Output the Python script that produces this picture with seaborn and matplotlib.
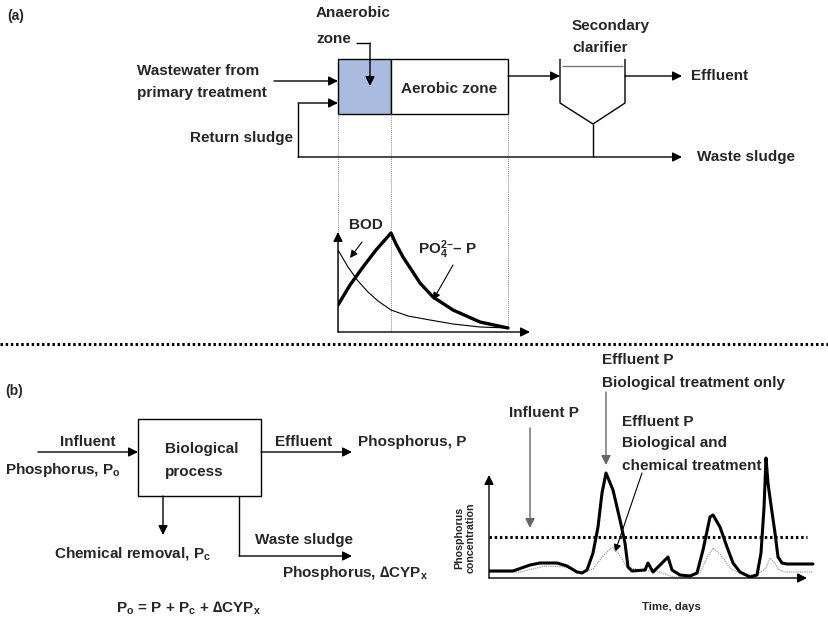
import matplotlib.pyplot as plt
import seaborn as sns
from matplotlib.patches import Rectangle

# -------------------------------------------------------
# Data
# -------------------------------------------------------
# (a) profile along the reactor
bod_x = [0, 10, 20, 30, 40, 53, 70, 92, 115, 142, 170]
bod_y = [82, 65, 51, 40, 31, 22, 16, 12, 8, 5, 4]
po4_x = [0, 12, 25, 38, 53, 58, 65, 82, 95, 115, 142, 170]
po4_y = [27, 47, 65, 82, 99, 88, 75, 49, 35, 22, 10, 4]

# (b) effluent P over time
bio_t = [0, 24, 41, 51, 68, 78, 88, 93, 98, 104, 109, 113, 117, 124, 131, 136,
         139, 143, 156, 159, 164, 171, 179, 183, 191, 201, 208, 214, 221, 224,
         231, 238, 244, 251, 261, 268, 272, 275, 277, 279, 281, 286, 289, 293,
         298, 324]
bio_p = [7, 7, 13, 15, 15, 12, 6, 5, 8, 25, 51, 85, 105, 88, 58, 35,
         11, 7, 8, 15, 6, 13, 21, 8, 3, 2, 5, 28, 61, 63,
         51, 31, 15, 6, 1, 3, 25, 70, 120, 95, 80, 45, 21, 15,
         14, 14]
chem_t = [0, 31, 56, 76, 91, 104, 114, 123, 129, 138, 151, 171, 184, 201, 211,
          218, 224, 231, 241, 254, 268, 277, 281, 285, 289, 296, 324]
chem_p = [6, 6, 12, 11, 5, 9, 22, 31, 25, 11, 8, 6, 1, 1, 5,
          20, 30, 24, 10, 3, 3, 10, 20, 16, 9, 6, 6]
influent_p = 41

# -------------------------------------------------------
# Figure setup
# -------------------------------------------------------
sns.set_style('white')
plt.rcParams['font.family'] = ['Liberation Sans', 'DejaVu Sans']
plt.rcParams['mathtext.fontset'] = 'custom'
plt.rcParams['mathtext.rm'] = 'Liberation Sans:bold'
plt.rcParams['mathtext.it'] = 'Liberation Sans:bold'
plt.rcParams['mathtext.bf'] = 'Liberation Sans:bold'

W, H = 829, 618
fig = plt.figure(figsize=(W / 100, H / 100), dpi=100)
ax = fig.add_axes([0, 0, 1, 1])
ax.set_xlim(0, W)
ax.set_ylim(H, 0)
ax.axis('off')

FS = 11


def label(x, y, s, size=FS, **kw):
    ax.text(x, y, s, fontsize=size, fontweight='bold', va='center', **kw)


def arrow(a, x0, y0, x1, y1, color='black', lw=1.0, ms=14):
    a.annotate('', xy=(x1, y1), xytext=(x0, y0), annotation_clip=False,
               arrowprops=dict(arrowstyle='-|>', color=color, lw=lw,
                               mutation_scale=ms, shrinkA=0, shrinkB=0))


def line(xs, ys, **kw):
    kw.setdefault('color', 'black')
    kw.setdefault('lw', 1.0)
    ax.plot(xs, ys, solid_capstyle='butt', **kw)


# -------------------------------------------------------
# (a) process flow sheet
# -------------------------------------------------------
label(7, 16, '(a)', size=10)

ax.add_patch(Rectangle((338, 59), 53, 55, facecolor='#a9bcdf', edgecolor='black', lw=1))
ax.add_patch(Rectangle((391, 59), 117, 55, facecolor='white', edgecolor='black', lw=1))
label(401, 89, 'Aerobic zone')

label(316, 13, 'Anaerobic')
label(316, 39, 'zone')
line([356, 370], [43, 43])
arrow(ax, 370, 43, 370, 86)

label(137, 71, 'Wastewater from')
label(137, 93, 'primary treatment')
arrow(ax, 274, 81, 338, 81)

label(293, 138, 'Return sludge', ha='right')
line([298, 298], [157, 103])
arrow(ax, 298, 103, 338, 103)
arrow(ax, 298, 157, 682, 157)
label(697, 157, 'Waste sludge')

# clarifier
arrow(ax, 508, 76, 560, 76)
line([560, 560, 593, 625, 625], [59, 103, 124, 103, 59])
line([562, 623], [66, 66], color='#777777')
line([593, 593], [124, 157])
label(572, 26, 'Secondary')
label(572, 48, 'clarifier')
arrow(ax, 625, 76, 682, 76)
label(691, 76, 'Effluent')

# guides down to the profile
for gx, gy in [(338, 332), (391, 332), (508, 328)]:
    line([gx, gx], [114, gy], color='#888888', lw=0.7, ls=(0, (1, 1)))

# profile sketch
pa = fig.add_axes([338 / W, (H - 332) / H, 192 / W, 110 / H])
pa.set_xlim(0, 192)
pa.set_ylim(0, 110)
pa.axis('off')
sns.lineplot(x=bod_x, y=bod_y, ax=pa, color='black', lw=0.8, sort=False)
sns.lineplot(x=po4_x, y=po4_y, ax=pa, color='black', lw=2.4, sort=False)
arrow(pa, 0, 0, 192, 0)
arrow(pa, 0, 0, 0, 100)

label(366, 225, 'BOD', ha='center')
arrow(ax, 362, 242, 350, 258, lw=0.8, ms=11)
label(418, 250, 'PO$_4^{2\u2013}$\u2013 P')
arrow(ax, 453, 265, 433, 300, lw=0.8, ms=11)

# separator
line([0, W], [344, 344], lw=2.2, ls=(0, (0.8, 0.9)))

# -------------------------------------------------------
# (b) phosphorus balance
# -------------------------------------------------------
label(5, 391, '(b)', size=10)

ax.add_patch(Rectangle((138, 419), 123, 77, facecolor='white', edgecolor='black', lw=1))
label(165, 449, 'Biological')
label(165, 472, 'process')

arrow(ax, 38, 452, 138, 452)
label(88, 442, 'Influent', ha='center')
label(5, 470, 'Phosphorus, P$_\\mathrm{o}$')

arrow(ax, 261, 452, 352, 452)
label(275, 442, 'Effluent')
label(358, 442, 'Phosphorus, P')

arrow(ax, 163, 496, 163, 535)
label(54, 553, 'Chemical removal, P$_\\mathrm{c}$')

line([239, 239], [496, 556])
arrow(ax, 239, 556, 352, 556)
label(255, 540, 'Waste sludge')
label(282, 573, 'Phosphorus, \u2206CYP$_\\mathrm{x}$')

label(116, 608, 'P$_\\mathrm{o}$ = P + P$_\\mathrm{c}$ + \u2206CYP$_\\mathrm{x}$')

# time series sketch
ta = fig.add_axes([489 / W, (H - 578) / H, 340 / W, 138 / H])
ta.set_xlim(0, 340)
ta.set_ylim(0, 138)
ta.axis('off')
sns.lineplot(x=chem_t, y=chem_p, ax=ta, color='#8a8a8a', lw=0.8,
             linestyle=(0, (1, 1)), sort=False)
sns.lineplot(x=bio_t, y=bio_p, ax=ta, color='black', lw=2.2, sort=False)
ta.plot([0, 318], [influent_p, influent_p], color='black', lw=2.2, ls=(0, (0.8, 0.9)))
arrow(ta, 0, 0, 318, 0)
arrow(ta, 0, 0, 0, 103)

ax.text(465, 538, 'Phosphorus\nconcentration', rotation=90, ha='center', va='center',
        fontsize=7.7, fontweight='bold', linespacing=1.1)
label(671, 607, 'Time, days', size=8.2, ha='center')

label(509, 413, 'Influent P')
arrow(ax, 530, 428, 530, 528, color='#666666')

label(602, 360, 'Effluent P')
label(602, 383, 'Biological treatment only')
arrow(ax, 606, 392, 606, 465, color='#666666')

label(622, 422, 'Effluent P')
label(622, 443, 'Biological and')
label(622, 466, 'chemical treatment')
arrow(ax, 642, 473, 615, 552, lw=0.8, ms=11)

fig.savefig('out.png', dpi=100)
